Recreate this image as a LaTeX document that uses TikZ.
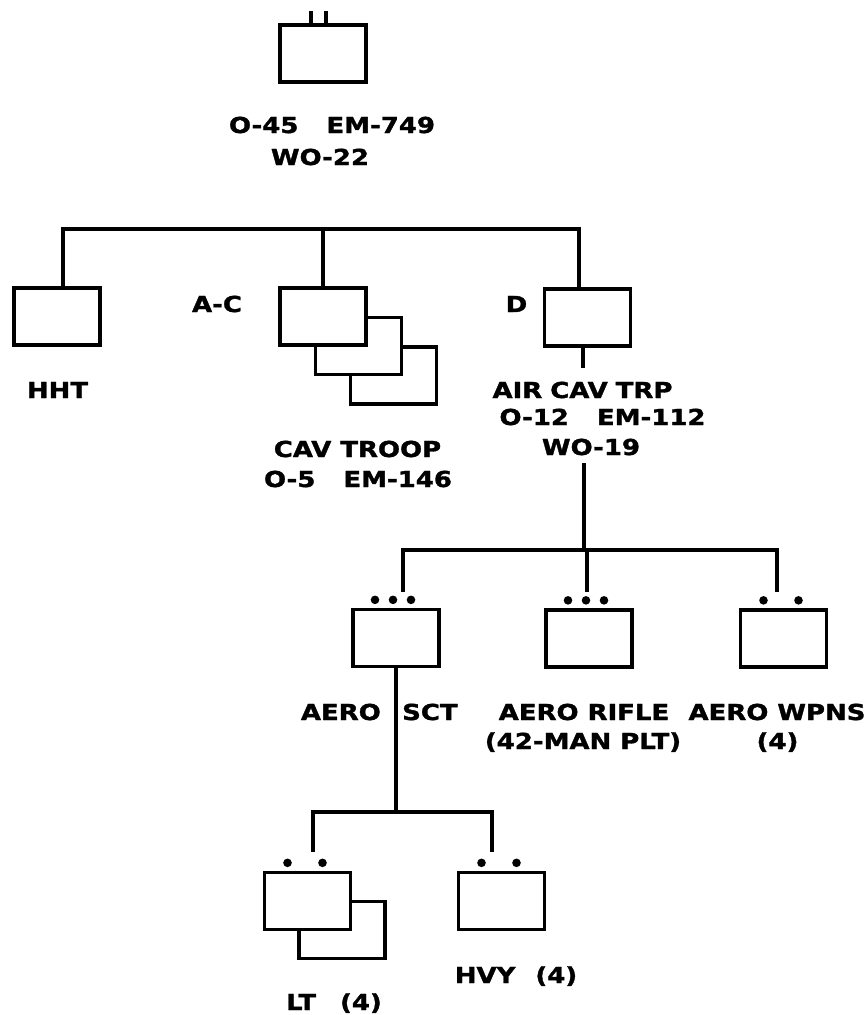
\documentclass[tikz,border=0pt]{standalone}
\usepackage{fontspec}
\setmainfont{DejaVu Sans}[FakeStretch=1.18, BoldFeatures={FakeBold=1.5}]
\usetikzlibrary{calc}
\begin{document}
\begin{tikzpicture}[x=1pt,y=-1pt,
  unit/.style={draw, line width=3.3pt, minimum width=86pt, minimum height=57pt, inner sep=0pt, fill=white},
  lbl/.style={font=\fontsize{22}{26}\selectfont\bfseries, inner sep=0pt, anchor=base},
  conn/.style={line width=3.3pt},
  unitdot/.style={radius=4.3pt}
]
\useasboundingbox[fill=white] (0,0) rectangle (866,1015);

% unit boxes
\node[unit] (sqdn) at (323,53.5) {};
\node[unit] (hht) at (57,316.5) {};
\node[unit] (ac3) at (393.5,375.5) {};
\node[unit] (ac2) at (358.5,346) {};
\node[unit] (ac1) at (323,316.5) {};
\node[unit] (d) at (587.5,317.5) {};
\node[unit] (sct) at (396,638) {};
\node[unit] (rfl) at (589,638.5) {};
\node[unit] (wpn) at (783.5,638.5) {};
\node[unit] (lt2) at (342,930) {};
\node[unit] (lt1) at (307.5,901) {};
\node[unit] (hvy) at (501.5,901) {};

% squadron symbol
\draw[conn] ($(sqdn.north)+(-12pt,0pt)$) -- ++(0pt,12pt);
\draw[conn] ($(sqdn.north)+(3pt,0pt)$) -- ++(0pt,12pt);

% platoon / section dots
\foreach \dx in {-21,-3,15} {
  \fill ($(sct.north)+(\dx pt,8pt)$) circle[unitdot];
  \fill ($(rfl.north)+(\dx pt,8pt)$) circle[unitdot];
}
\foreach \dx in {-20,15} {
  \fill ($(wpn.north)+(\dx pt,8pt)$) circle[unitdot];
  \fill ($(lt1.north)+(\dx pt,8pt)$) circle[unitdot];
  \fill ($(hvy.north)+(\dx pt,8pt)$) circle[unitdot];
}

% connectors, level 1
\coordinate (b1l) at (63,229);
\coordinate (b1r) at (579,229);
\draw[conn] (hht.north -| b1l) -- (b1l) -- (b1r) -- (d.north -| b1r);
\draw[conn] (ac1.north) -- (ac1.north |- b1l);

% D troop down
\coordinate (dtxt) at (583,368);
\draw[conn] (d.south -| dtxt) -- (dtxt);
\coordinate (wo) at (584,463);
\coordinate (b2m) at (584,550);
\draw[conn] (wo) -- (b2m);

% level 2
\coordinate (b2l) at (403,550);
\coordinate (b2r) at (777,550);
\coordinate (b2e) at (0,592);
\draw[conn] (b2l |- b2e) -- (b2l) -- (b2r) -- (b2r |- b2e);
\coordinate (b2c) at (587,550);
\draw[conn] (b2c) -- (b2c |- b2e);

% level 3
\coordinate (b3l) at (313,812);
\coordinate (b3r) at (492,812);
\coordinate (b3e) at (0,852);
\draw[conn] (sct.south) -- (sct.south |- b3l);
\draw[conn] (b3l |- b3e) -- (b3l) -- (b3r) -- (b3r |- b3e);

% labels
\node[lbl] (t1) at (332,133) {O-45\hspace{28pt}EM-749};
\node[lbl] (t2) at (320,165) {WO-22};
\node[lbl] (thht) at (57.5,398) {HHT};
\node[lbl] (tac) at (217,312) {A-C};
\node[lbl] (td) at (516.5,312) {D};
\node[lbl] (tcav1) at (357.5,457) {CAV\hspace{9pt}TROOP};
\node[lbl] (tcav2) at (358,487) {O-5\hspace{28pt}EM-146};
\node[lbl] (tair1) at (582.5,398) {AIR\hspace{8pt}CAV\hspace{8pt}TRP};
\node[lbl] (tair2) at (602.5,425) {O-12\hspace{28pt}EM-112};
\node[lbl] (tair3) at (591,455) {WO-19};
\node[lbl, anchor=base east] (tsct1) at (381,720) {AERO};
\node[lbl, anchor=base west] (tsct2) at (402,720) {SCT};
\node[lbl] (trfl1) at (584,720) {AERO\hspace{9pt}RIFLE};
\node[lbl] (trfl2) at (583,749) {(42-MAN\hspace{9pt}PLT)};
\node[lbl] (twpn1) at (777,720) {AERO\hspace{9pt}WPNS};
\node[lbl] (twpn2) at (777.5,749) {(4)};
\node[lbl] (thvy) at (516,983) {HVY\hspace{20pt}(4)};
\node[lbl] (tlt) at (334,1010) {LT\hspace{24pt}(4)};
\end{tikzpicture}
\end{document}
